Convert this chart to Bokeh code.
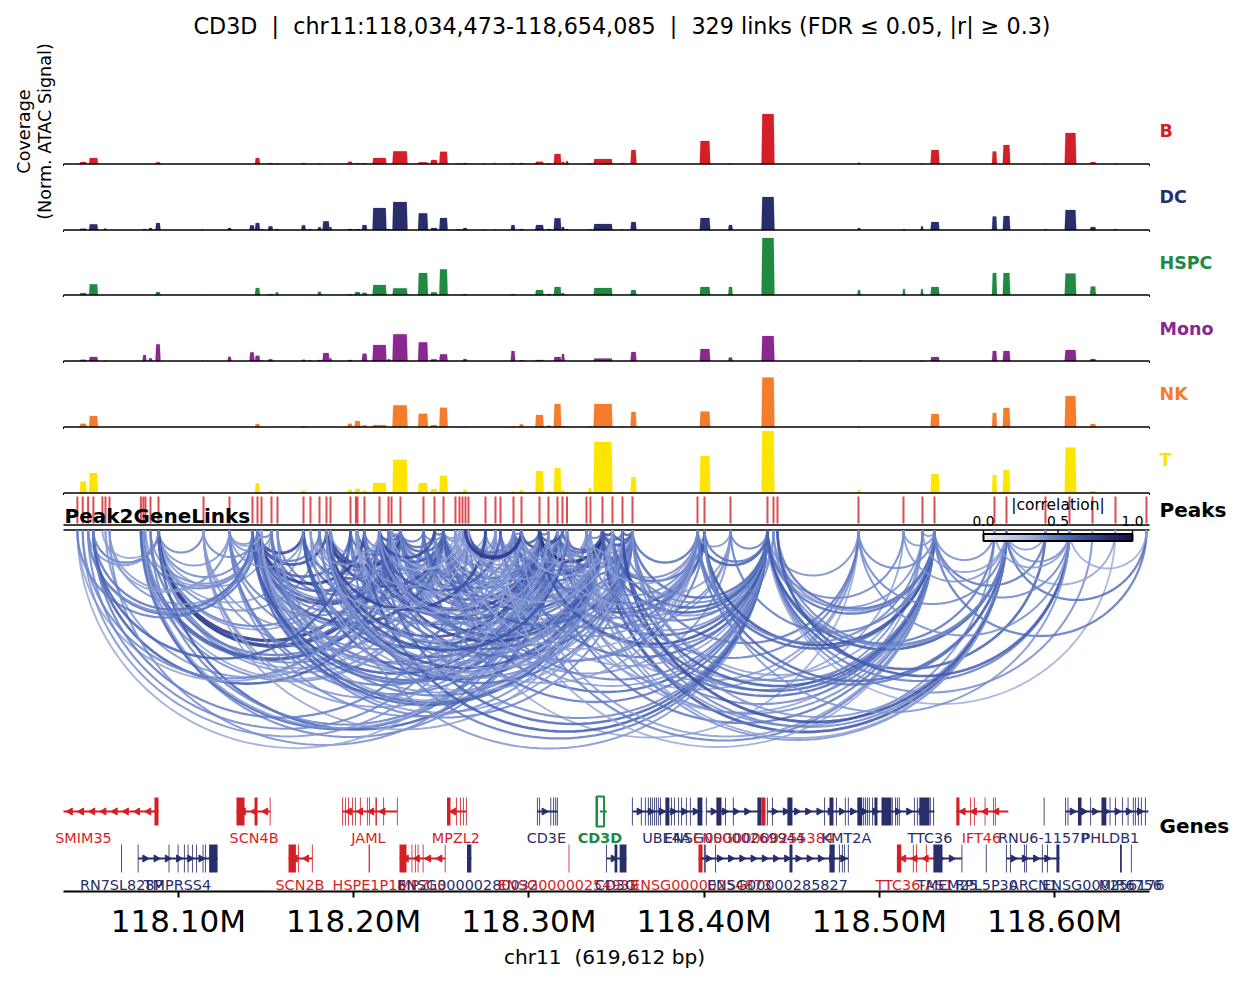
import math
from bokeh.plotting import figure
from bokeh.models import Range1d, FixedTicker, Label, ColumnDataSource
from bokeh.embed import file_html
from bokeh.resources import INLINE

# ---- chart window ----
title_text = "CD3D \u00a0|\u00a0 chr11:118,034,473-118,654,085 \u00a0|\u00a0 329 links (FDR \u2264 0.05, |r| \u2265 0.3)"
win_start = 118034473
win_end = 118654085
xlabel_text = "chr11 \u00a0(619,612 bp)\u00a0\u00a0\u00a0\u00a0\u00a0"
tick_values = [118100000, 118200000, 118300000, 118400000, 118500000, 118600000]
tick_labels = ["118.10M", "118.20M", "118.30M", "118.40M", "118.50M", "118.60M"]

tracks = ["B", "DC", "HSPC", "Mono", "NK", "T"]
track_colors = ["#D51F26", "#272E6A", "#208A42", "#89288F", "#F47D2B", "#FEE500"]

# ---- coverage regions (kb) ----
region_center = [118045.71, 118051.59, 118058.26, 118080.69, 118084.11, 118088.39, 118113.78, 118129.18,
                 118142.02, 118145.16, 118147.72, 118152.58, 118156.28, 118171.40, 118175.11, 118180.53,
                 118184.24, 118186.81, 118197.93, 118202.21, 118206.20, 118214.76, 118220.18, 118226.46,
                 118239.58, 118245.85, 118251.28, 118259.83, 118263.54, 118274.67, 118280.66, 118283.23,
                 118290.93, 118295.78, 118306.05, 118311.47, 118316.32, 118319.46, 118321.74, 118334.86,
                 118342.28, 118353.12, 118359.68, 118400.47, 118415.02, 118436.42, 118488.34, 118514.01,
                 118524.28, 118531.70, 118565.64, 118572.49, 118594.74, 118609.00, 118621.84, 118634.68,
                 118652.36]
region_width = [4.0, 5.1, 1.7, 2.3, 2.3, 2.9, 1.1, 2.3, 2.9, 2.9, 1.7, 2.9, 2.0, 2.6, 1.7, 2.3, 4.0, 1.7, 2.9,
                3.4, 3.1, 8.0, 2.3, 8.6, 5.7, 4.0, 4.8, 3.4, 2.6, 1.7, 1.7, 1.7, 2.6, 2.6, 4.8, 2.6, 4.3, 2.0,
                1.7, 2.3, 10.8, 1.7, 3.4, 6.0, 2.6, 7.4, 2.0, 1.7, 1.7, 5.1, 2.9, 4.3, 1.4, 6.6, 3.4, 1.7, 1.1]
cov_B = [2, 6, 0, 0, 0, 1.7, .3, 0, 0, 6, 0, 1, .5, 1, 0, .3, 0, 0, 2.3, .5, .7, 6, 0, 12.7, 1.7, 4, 12.3, .3,
         1, .2, .7, 0, .7, 1, 2.3, .5, 10, 2, 3, .5, 5, 1, 14, 23, .2, 50, 1.3, 0, .3, 14, 12.5, 19, .3, 31, 2, .3, 0]
cov_DC = [1.3, 5.7, 1.5, 1, 2, 7, .5, 2, 4.7, 7, 1, 3.7, 1, 4.7, 1, 2.7, 8.7, 3, 1, .7, 5, 22, 1, 28, 16.7, 2,
          12, .5, 2, .2, .3, 0, 5, 1, 5, 1, 11.7, 3, 1, .5, 6, .7, 8, 12, 5, 33, 2, .7, 3.7, 8, 13.5, 14, 1, 20, 3, 1, .5]
cov_HSPC = [2, 10.7, 0, 0, 0, 3, .3, 0, 0, 7, 0, 1, 2.7, 0, 0, 3.3, 0, 0, .7, 3, 2.3, 10, 0, 6.7, 22, 2.7, 25.7,
            0, 1, 0, 0, 0, 1, 0, 5, 1, 8, 2, 0, 0, 7, 0, 5, 8, 8, 57, 5, 6, 6, 8, 22, 22, 0, 21.5, 8.5, 0, 0]
cov_Mono = [1.3, 4, .3, 6, 2.7, 16.7, .3, 4.3, 8.7, 5.3, .5, 1.7, 0, 1.3, .7, 1, 8, 2.7, 1, 0, 7.3, 16, 1.7, 26.7,
            18.7, 1.7, 6.7, 0, 2, 0, 0, 0, 10, .7, 1, 0, 4, 7, 0, 0, 2.5, 0, 9, 12, 3.5, 25, .3, 0, .3, 4, 10, 10, 0, 11, 2, 0, 0]
cov_NK = [3.3, 11, 0, 0, 0, 0, 0, 0, 0, 3, 0, 0, 0, 1, 0, 0, 0, 0, 3.3, 6, 1.7, 2, 0, 21.7, 13.3, 2, 19.3, 0, .7, 0,
          0, 0, .5, 2.7, 12, 1.5, 23, 1, .5, 1, 23, .7, 15, 15.5, 0, 49.5, .7, 0, .3, 13, 14, 19, .3, 31, 3, 0, 0]
cov_T = [11.5, 20, 0, 0, 0, 0, .2, 0, 0, 9.7, 0, 2, .5, 2.5, 0, 0, 0, 0, 3.3, 4.3, 2.3, 10, 1, 33.3, 10, 4, 17.3,
         1, 3.3, 0, 0, .7, 1.7, 3, 22, 1.5, 25, 3, 1, 5, 51, 1.7, 16, 37, .5, 62, 3, 1, .7, 19, 18, 23, 1.5, 45.5, 2, .5, 0]

# ---- peaks (kb) ----
peak_kb = [118042.40, 118045.43, 118048.51, 118051.53, 118056.67, 118058.44, 118060.72, 118078.63, 118080.06,
           118081.26, 118084.11, 118088.67, 118114.35, 118129.18, 118142.30, 118145.16, 118147.44, 118153.15,
           118156.57, 118171.40, 118175.39, 118180.53, 118184.52, 118186.81, 118198.22, 118201.30, 118202.21,
           118206.20, 118214.76, 118219.90, 118221.61, 118226.74, 118239.86, 118246.14, 118251.28, 118258.12,
           118260.40, 118262.12, 118263.83, 118265.54, 118275.24, 118280.94, 118283.80, 118291.21, 118295.78,
           118306.05, 118311.18, 118316.32, 118319.17, 118321.74, 118332.86, 118335.14, 118341.99, 118347.70,
           118353.40, 118359.11, 118396.19, 118400.19, 118415.02, 118436.13, 118439.56, 118441.84, 118488.05,
           118513.72, 118524.56, 118531.41, 118565.64, 118572.49, 118594.74, 118608.43, 118621.56, 118634.68,
           118652.36]

# ---- links: a hub peak, the peaks it links to, and |r| of each ----
link_hub = [11, 31, 34, 15, 47, 45, 52, 55, 59, 65, 67, 69, 43, 13, 0, 1, 2, 3, 56, 22, 28, 39, 44]
link_partners = [
    [2, 3, 4, 12, 13, 14, 17, 19, 21, 24, 26, 28, 29, 30, 32, 33, 34],
    [3, 5, 7, 8, 10, 12, 13, 14, 15, 16, 17, 18, 19, 20, 21, 22, 23, 24, 25, 26, 27, 28, 29, 30, 32, 33, 34,
     35, 36, 38, 40, 41, 43, 44, 45, 46, 47, 50, 52, 54],
    [7, 9, 12, 13, 14, 15, 17, 19, 21, 23, 25, 27, 28, 32, 33, 36, 38, 40, 41, 43, 45, 47, 50, 52, 54, 57,
     58, 59, 62],
    [2, 6, 7, 9, 10, 12, 13, 17, 19, 21, 22, 24, 27, 28, 32, 35, 41, 44, 47, 52, 54, 55],
    [8, 11, 12, 13, 14, 17, 18, 19, 21, 23, 26, 28, 32, 35, 39, 42, 44, 52, 53, 55, 57, 58, 59, 62, 64],
    [6, 7, 8, 10, 12, 13, 14, 16, 17, 19, 22, 24, 27, 28, 30, 32, 33, 35, 39, 40, 43, 46, 48, 51, 53, 54, 55, 56, 57,
     58, 60, 62],
    [12, 13, 14, 16, 17, 18, 19, 20, 21, 22, 24, 26, 27, 28, 29, 30, 32, 33, 35, 37, 39, 42, 43, 44, 45, 48, 50, 53, 54,
     55, 56, 57, 58, 59, 60, 62, 63, 64, 65, 66, 67],
    [20, 22, 25, 28, 31, 32, 34, 37, 41, 43, 49, 50, 53, 54, 56, 62, 64],
    [23, 24, 27, 28, 30, 32, 35, 39, 41, 43, 45, 49, 50, 53, 54, 55, 56, 57, 58, 62, 63, 64, 65, 66, 68, 69, 70, 71, 67],
    [42, 43, 44, 46, 49, 50, 53, 54, 55, 56, 57, 58, 60, 61, 62, 63, 64, 66, 68, 72],
    [50, 51, 53, 54, 55, 56, 57, 60, 61, 62, 63, 64, 68, 69, 71, 72],
    [61, 57, 62, 65, 66, 72],
    [39, 37, 36, 38, 48, 44],
    [5, 6, 16, 17, 19],
    [43, 28, 14],
    [41, 28],
    [40, 14],
    [39, 24, 14, 11],
    [30, 33, 36, 40, 42, 46, 49, 51, 58, 64],
    [40, 43, 46, 49, 51, 53, 54],
    [20, 23, 33, 36, 39, 42, 46, 49],
    [20, 25, 30, 44, 46, 49, 53],
    [25, 27, 30, 36, 38, 50, 53, 56],
]
link_r = [
    [.40, .42, .36, .46, .40, .44, .38, .36, .42, .48, .38, .82, .60, .75, .44, .36, .40],
    [.62, .40, .56, .62, .50, .38, .46, .72, .64, .40, .50, .46, .62, .38, .46, .86, .72, .56, .42, .50,
     .46, .66, .56, .40, .48, .56, .60, .36, .40, .44, .38, .42, .52, .40, .64, .36, .56, .38, .48, .36],
    [.42, .36, .40, .44, .50, .66, .38, .56, .42, .70, .36, .50, .62, .44, .52, .38, .42, .36, .40,
     .54, .64, .58, .40, .60, .38, .48, .40, .56, .34],
    [.52, .40, .46, .38, .42, .44, .40, .46, .72, .50, .68, .60, .78, .54, .46, .38, .42, .48, .56, .60, .38, .44],
    [.44, .60, .38, .46, .58, .40, .42, .62, .46, .56, .44, .68, .60, .40, .44, .38, .70, .62, .46, .60, .52, .42, .58,
     .38, .36],
    [.42, .56, .38, .46, .40, .48, .64, .36, .44, .58, .70, .50, .62, .74, .40, .58, .46, .36, .40, .44, .60, .50, .66,
     .42, .44, .40, .54, .48, .60, .38, .44, .36],
    [.36, .42, .58, .36, .48, .40, .60, .36, .44, .64, .46, .38, .56, .72, .44, .60, .52, .46, .38, .40, .42, .56, .64,
     .48, .90, .62, .46, .70, .52, .66, .44, .58, .38, .62, .40, .46, .36, .42, .56, .40, .66],
    [.36, .52, .40, .56, .48, .44, .60, .38, .42, .50, .46, .38, .62, .58, .54, .50, .36],
    [.40, .48, .62, .58, .44, .50, .38, .46, .36, .54, .66, .40, .48, .60, .44, .56, .62, .52, .46, .42, .44, .40, .54,
     .50, .60, .48, .42, .32, .64],
    [.34, .46, .38, .50, .42, .44, .56, .62, .46, .58, .66, .48, .40, .52, .44, .40, .38, .42, .50, .50],
    [.40, .36, .44, .68, .40, .50, .56, .42, .46, .44, .40, .38, .38, .42, .36, .52],
    [.62, .40, .42, .44, .38, .34],
    [.56, .40, .42, .38, .50, .44],
    [.36, .38, .34, .42, .40],
    [.34, .36, .48],
    [.40, .44],
    [.44, .42],
    [.48, .60, .52, .42],
    [.36, .42, .34, .40, .48, .38, .44, .36, .40, .44],
    [.72, .44, .38, .66, .40, .36, .42],
    [.38, .36, .70, .34, .44, .62, .38, .42],
    [.36, .40, .34, .68, .42, .38, .36],
    [.36, .42, .38, .34, .80, .40, .36, .44],
]
cmap_r = [0.0, 0.30, 0.45, 0.60, 0.80, 1.0]
cmap_colors = ["#E8EAF0", "#A4B3DD", "#6A82C8", "#4460B2", "#2A3488", "#12144E"]

# ---- genes: positions in kb from the window start ----
gene_name = ["SMIM35", "SCN4B", "JAML", "MPZL2", "CD3E", "CD3D", "UBE4A", "ENSG00000269944", "ENSG00000255384",
             "KMT2A", "TTC36", "IFT46", "RNU6-1157P", "PHLDB1",
             "RN7SL828P", "TMPRSS4", "SCN2B", "HSPE1P18", "MPZL3", "ENSG00000280032", "ENSG00000254938", "CD3G",
             "ENSG00000254873", "ENSG00000285827", "TTC36-AS1", "TMEM25", "RPL5P30", "ARCN1", "ENSG000256176", "MIR6756"]
gene_row = [0] * 14 + [1] * 16
gene_group = ["minus", "minus", "minus", "minus", "plus", "target", "plus", "plus", "minus", "plus", "plus", "minus",
              "plus", "plus", "plus", "plus", "minus", "minus", "minus", "plus", "minus", "plus", "minus", "plus",
              "minus", "plus", "plus", "plus", "plus", "plus"]
gene_start = [0, 98.7, 159.2, 218.8, 270.4, 306.0, 324.6, 366.8, 398.2, 401.6, 485.5, 509.4, 559.5, 571.7,
              33.1, 42.6, 128.4, 174.3, 191.7, 230.2, 288.4, 309.8, 362.3, 364.0, 475.5, 496.3, 526.5, 538.0, 602.8, 609.3]
gene_end = [54.2, 118.1, 190.5, 229.9, 281.8, 310.0, 364.5, 398.2, 400.5, 485.5, 496.9, 539.1, 559.5, 619.0,
            33.1, 87.9, 142.0, 174.3, 217.8, 232.7, 288.4, 321.2, 366.8, 447.8, 497.0, 512.6, 526.5, 568.2, 603.6, 609.3]
gene_label_kb = [11.4, 108.7, 174.0, 223.9, 275.5, 306.1, 344.0, 382.8, 399.4, 446.7, 494.3, 523.7, 559.1, 597.3,
                 33.1, 65.0, 134.9, 174.6, 204.8, 230.5, 288.1, 314.9, 364.0, 407.3, 485.5, 504.3, 526.6, 553.4,
                 593.3, 608.7]
# a bare number is a narrow exon, a pair is a wide one
gene_exons = [
    [(51.9, 54.2)],
    [(98.7, 103.3), (109.0, 110.7), 117.9],
    [159.2, 160.9, 162.6, 164.9, 166.6, 169.4, 173.4, 174.6, (178.0, 178.8), 182.6, 190.5],
    [(218.8, 220.8), 224.2, 226.5, 228.2, 229.9],
    [270.4, 271.6, 278.0, 279.6, 280.8, 281.8],
    [(304.2, 305.0)],
    [324.6, 329.7, 332.0, 333.7, 334.9, 336.0, 337.2, 338.3, 339.4, 340.6, (343.4, 345.7), 346.9, 348.6, 350.9, 352.6,
     355.4, 357.7, (361.7, 364.5)],
    [366.8, (372.5, 375.4), 377.7, 382.2, (395.9, 398.2)],
    [(398.2, 400.5)],
    [401.6, 404.5, (413.0, 415.9), 434.2, (437.0, 439.3), 441.0, 446.1, 447.8, (452.9, 455.7), 456.5, 457.6, 458.7,
     459.8, 461.6, (462.7, 464.4), (466.7, 472.4), 472.9, 474.7, 475.8, 476.9],
    [485.5, 487.2, (488.3, 494.1), 494.6, 496.4],
    [(509.4, 511.2), 517.5, 519.7, 525.8, 530.6, 531.7],
    [559.5],
    [571.7, 573.1, (578.8, 580.8), 586.0, (592.2, 595.0), 597.1, 600.2, 604.2, 607.4, 610.4, 611.6, 613.3, 615.0, 617.3],
    [33.1],
    [42.6, 60.2, 65.4, 69.0, 71.1, 73.6, 75.9, 79.6, 81.0, (83.1, 87.9)],
    [(128.4, 132.6), 134.1, 142.0],
    [(174.1, 174.8)],
    [(191.7, 195.7), 198.8, 200.8, 202.3, 205.2, 217.8],
    [(230.2, 232.7)],
    [288.4],
    [309.8, (314.4, 316.0), (317.3, 321.2)],
    [(362.3, 364.6), 366.3],
    [365.7, 372.0, (414.2, 415.9), (437.0, 440.0), 442.7, 444.4, 445.6, 447.8],
    [(475.5, 478.0), 484.9, 486.7, 492.3],
    [(496.3, 501.5), 512.6],
    [526.5],
    [538.0, 540.3, 548.3, 549.4, 558.5, 561.4, (566.5, 568.2)],
    [(602.8, 603.8)],
    [609.3],
]
target_box_kb = (304.1, 308.4)
gene_group_color = {"plus": "#272E6A", "minus": "#D51F26", "target": "#208A42"}

# ---- layout (vertical positions in page pixels) ----
FIG_W, FIG_H = 1240, 976
FRAME_L, FRAME_R, FRAME_T, FRAME_B = 64, 1150, 42, 892
track_base = [164.5, 230.5, 295.5, 361.5, 427.5, 493.5]
label_y = [131, 197, 263, 329, 394, 460]
PEAK_TOP, PEAK_BOT = 497, 524
RULE_1, RULE_2 = 525.5, 530.5
ARC_TOP = 530.5
ROW_MID = [812, 859]
ROW_HALF = 14
ROW_TXT = [838, 885]
px_per_bp = (FRAME_R - FRAME_L) / (win_end - win_start)
FONT = "DejaVu Sans"


def off_x(offset_px):
    """x just outside or inside the window, for texts placed by layout."""
    return win_end + offset_px / px_per_bp


def kb0(v):
    return win_start + v * 1000.0


def hex2rgb(h):
    return tuple(int(h[i:i + 2], 16) for i in (1, 3, 5))


def r_color(r):
    r = max(0.0, min(1.0, r))
    for i in range(len(cmap_r) - 1):
        if r <= cmap_r[i + 1]:
            f = (r - cmap_r[i]) / (cmap_r[i + 1] - cmap_r[i])
            a, b = hex2rgb(cmap_colors[i]), hex2rgb(cmap_colors[i + 1])
            return "#%02x%02x%02x" % tuple(round(a[k] + (b[k] - a[k]) * f) for k in range(3))
    return cmap_colors[-1]


# the frame spans the whole figure width so that texts beyond the genomic window stay visible
LEFT_PAD = FRAME_L - 1
p = figure(width=FIG_W, height=FIG_H, output_backend="svg", toolbar_location=None,
           x_range=Range1d(win_start - LEFT_PAD / px_per_bp, win_start + (FIG_W - LEFT_PAD) / px_per_bp),
           y_range=Range1d(FRAME_B, FRAME_T),
           min_border_left=0, min_border_right=0,
           min_border_top=FRAME_T - 1, min_border_bottom=FIG_H - FRAME_B + 1,
           background_fill_color="white", outline_line_color=None)
p.grid.visible = False
p.yaxis.visible = False

p.title.text = title_text
p.title.text_font = FONT
p.title.text_font_size = "22.25px"
p.title.text_font_style = "normal"
p.title.text_color = "black"
p.title.align = "left"
p.title.offset = 193
p.title.standoff = 5

ax = p.xaxis[0]
ax.ticker = FixedTicker(ticks=tick_values)
ax.bounds = (win_start, win_end)
ax.major_label_overrides = dict(zip(tick_values, tick_labels))
ax.major_label_text_font = FONT
ax.major_label_text_font_size = "31px"
ax.major_label_text_color = "black"
ax.major_label_standoff = 5
ax.axis_label = xlabel_text
ax.axis_label_text_font = FONT
ax.axis_label_text_font_size = "20.1px"
ax.axis_label_text_font_style = "normal"
ax.axis_label_text_color = "black"
ax.axis_label_standoff = 3
ax.axis_line_width = 2
ax.axis_line_color = "black"
ax.major_tick_line_width = 2
ax.major_tick_line_color = "black"
ax.major_tick_out = 6
ax.major_tick_in = 0
ax.minor_tick_line_color = None

# coverage
for name, color, base, ly, vals in zip(tracks, track_colors, track_base, label_y,
                                       [cov_B, cov_DC, cov_HSPC, cov_Mono, cov_NK, cov_T]):
    xs, ys = [], []
    for c, w, v in zip(region_center, region_width, vals):
        if v <= 0:
            continue
        c_bp, w_bp = c * 1000.0, w * 1000.0
        xs.append([c_bp - w_bp / 2, c_bp - w_bp / 2 + 450, c_bp + w_bp / 2 - 450, c_bp + w_bp / 2])
        ys.append([base, base - v, base - v, base])
    p.patches(xs, ys, fill_color=color, line_color=color, line_alpha=0.35, line_width=0.6)
    p.segment(win_start, base, win_end, base, line_color="black", line_width=1.4)
    p.segment([win_start, win_end], [base, base], [win_start, win_end], [base + 2, base + 2],
              line_color="black", line_width=1)
    p.add_layout(Label(x=off_x(10), y=ly, text=name, text_color=color, text_font=FONT, text_font_style="bold",
                       text_font_size="17.5px", text_align="left", text_baseline="middle"))

# peaks
peak_bp = [v * 1000.0 for v in peak_kb]
p.segment(peak_bp, [PEAK_TOP] * len(peak_bp), peak_bp, [PEAK_BOT] * len(peak_bp),
          line_color="#D51F26", line_alpha=0.8, line_width=2)
p.segment(win_start, RULE_1, win_end, RULE_1, line_color="black", line_width=1.4)
p.segment(win_start, RULE_2, win_end, RULE_2, line_color="black", line_width=1.4)

# links
arc_xs, arc_ys, arc_col, arc_w = [], [], [], []
for hub, partners, rs in zip(link_hub, link_partners, link_r):
    assert len(partners) == len(rs)
    for q, r in zip(partners, rs):
        a, b = peak_bp[hub], peak_bp[q]
        mid, half = (a + b) / 2, abs(a - b) / 2
        depth = half * px_per_bp
        ts = [math.pi * i / 72 for i in range(73)]
        arc_xs.append([mid + half * math.cos(t) for t in ts])
        arc_ys.append([ARC_TOP + depth * math.sin(t) for t in ts])
        arc_col.append(r_color(r))
        arc_w.append(0.8 + 3.0 * r)
p.multi_line(xs="xs", ys="ys", line_color="color", line_width="w", line_alpha=0.85,
             source=ColumnDataSource(dict(xs=arc_xs, ys=arc_ys, color=arc_col, w=arc_w)))

# colour bar
CB_L, CB_R = kb0(524.9), kb0(609.9)
CB_T, CB_B = 534.5, 541.5
steps = [i / 100 for i in range(100)]
p.quad(left=[CB_L + (CB_R - CB_L) * s for s in steps],
       right=[CB_L + (CB_R - CB_L) * min(s + 0.02, 1.0) for s in steps],
       top=[CB_T] * 100, bottom=[CB_B] * 100, fill_color=[r_color(s) for s in steps], line_color=None)
p.quad(left=[CB_L], right=[CB_R], top=[CB_T], bottom=[CB_B], fill_color=None, line_color="black", line_width=2)
cb_ticks = [0.0, 0.5, 1.0]
cb_tick_x = [CB_L + (CB_R - CB_L) * t for t in cb_ticks]
p.segment(cb_tick_x, [RULE_2] * 3, cb_tick_x, [CB_T] * 3, line_color="black", line_width=1.4)
for t, x in zip(cb_ticks, cb_tick_x):
    p.add_layout(Label(x=x, y=521, text="%.1f" % t, text_font=FONT, text_font_size="13.8px", text_color="black",
                       text_align="center", text_baseline="middle"))
p.add_layout(Label(x=(CB_L + CB_R) / 2, y=505, text="|correlation|", text_font=FONT, text_font_size="15.5px",
                   text_color="black", text_align="center", text_baseline="middle"))

# genes
for name, row, group, g0, g1, lab, exons in zip(gene_name, gene_row, gene_group, gene_start, gene_end,
                                                gene_label_kb, gene_exons):
    color = gene_group_color[group]
    mid = ROW_MID[row]
    if g1 - g0 > 2:
        p.segment(kb0(g0), mid, kb0(g1), mid, line_color=color, line_width=2)
        n = int((g1 - g0) / 6.4)
        arrow_x = [kb0(g0 + (i + 0.6) * 6.4) for i in range(n)]
        p.scatter(arrow_x, [mid] * n, marker="triangle", size=7, color=color,
                  angle=(-math.pi / 2 if group != "minus" else math.pi / 2))
    lefts, rights, alphas = [], [], []
    for e in exons:
        if isinstance(e, tuple):
            lefts.append(kb0(e[0]))
            rights.append(kb0(e[1]))
            alphas.append(1.0)
        else:
            lefts.append(kb0(e - 0.3))
            rights.append(kb0(e + 0.3))
            alphas.append(0.8)
    p.quad(left=lefts, right=rights, top=[mid - ROW_HALF] * len(lefts), bottom=[mid + ROW_HALF] * len(lefts),
           fill_color=color, fill_alpha=alphas, line_color=None)
    p.add_layout(Label(x=kb0(lab), y=ROW_TXT[row], text=name, text_font=FONT, text_font_size="14.4px",
                       text_color=color, text_font_style="bold" if group == "target" else "normal",
                       text_align="center", text_baseline="middle"))
p.quad(left=[kb0(target_box_kb[0])], right=[kb0(target_box_kb[1])], top=[ROW_MID[0] - 15], bottom=[ROW_MID[0] + 15],
       fill_color=None, line_color=gene_group_color["target"], line_width=2)

# section titles
p.add_layout(Label(x=off_x(10), y=510, text="Peaks", text_font=FONT, text_font_style="bold", text_font_size="20px",
                   text_color="black", text_align="left", text_baseline="middle"))
p.add_layout(Label(x=off_x(10), y=826, text="Genes", text_font=FONT, text_font_style="bold", text_font_size="20px",
                   text_color="black", text_align="left", text_baseline="middle"))
p.add_layout(Label(x=win_start + 1 / px_per_bp, y=516, text="Peak2GeneLinks", text_font=FONT, text_font_style="bold",
                   text_font_size="20px", text_color="black", text_align="left", text_baseline="middle"))
p.add_layout(Label(x=win_start - 40 / px_per_bp, y=132, text="Coverage", angle=90, angle_units="deg", text_font=FONT,
                   text_font_size="17.6px", text_color="black", text_align="center", text_baseline="middle"))
p.add_layout(Label(x=win_start - 19 / px_per_bp, y=132, text="(Norm. ATAC Signal)", angle=90, angle_units="deg",
                   text_font=FONT, text_font_size="17.6px", text_color="black", text_align="center",
                   text_baseline="middle"))

open("out.html", "w").write(file_html(p, INLINE))
